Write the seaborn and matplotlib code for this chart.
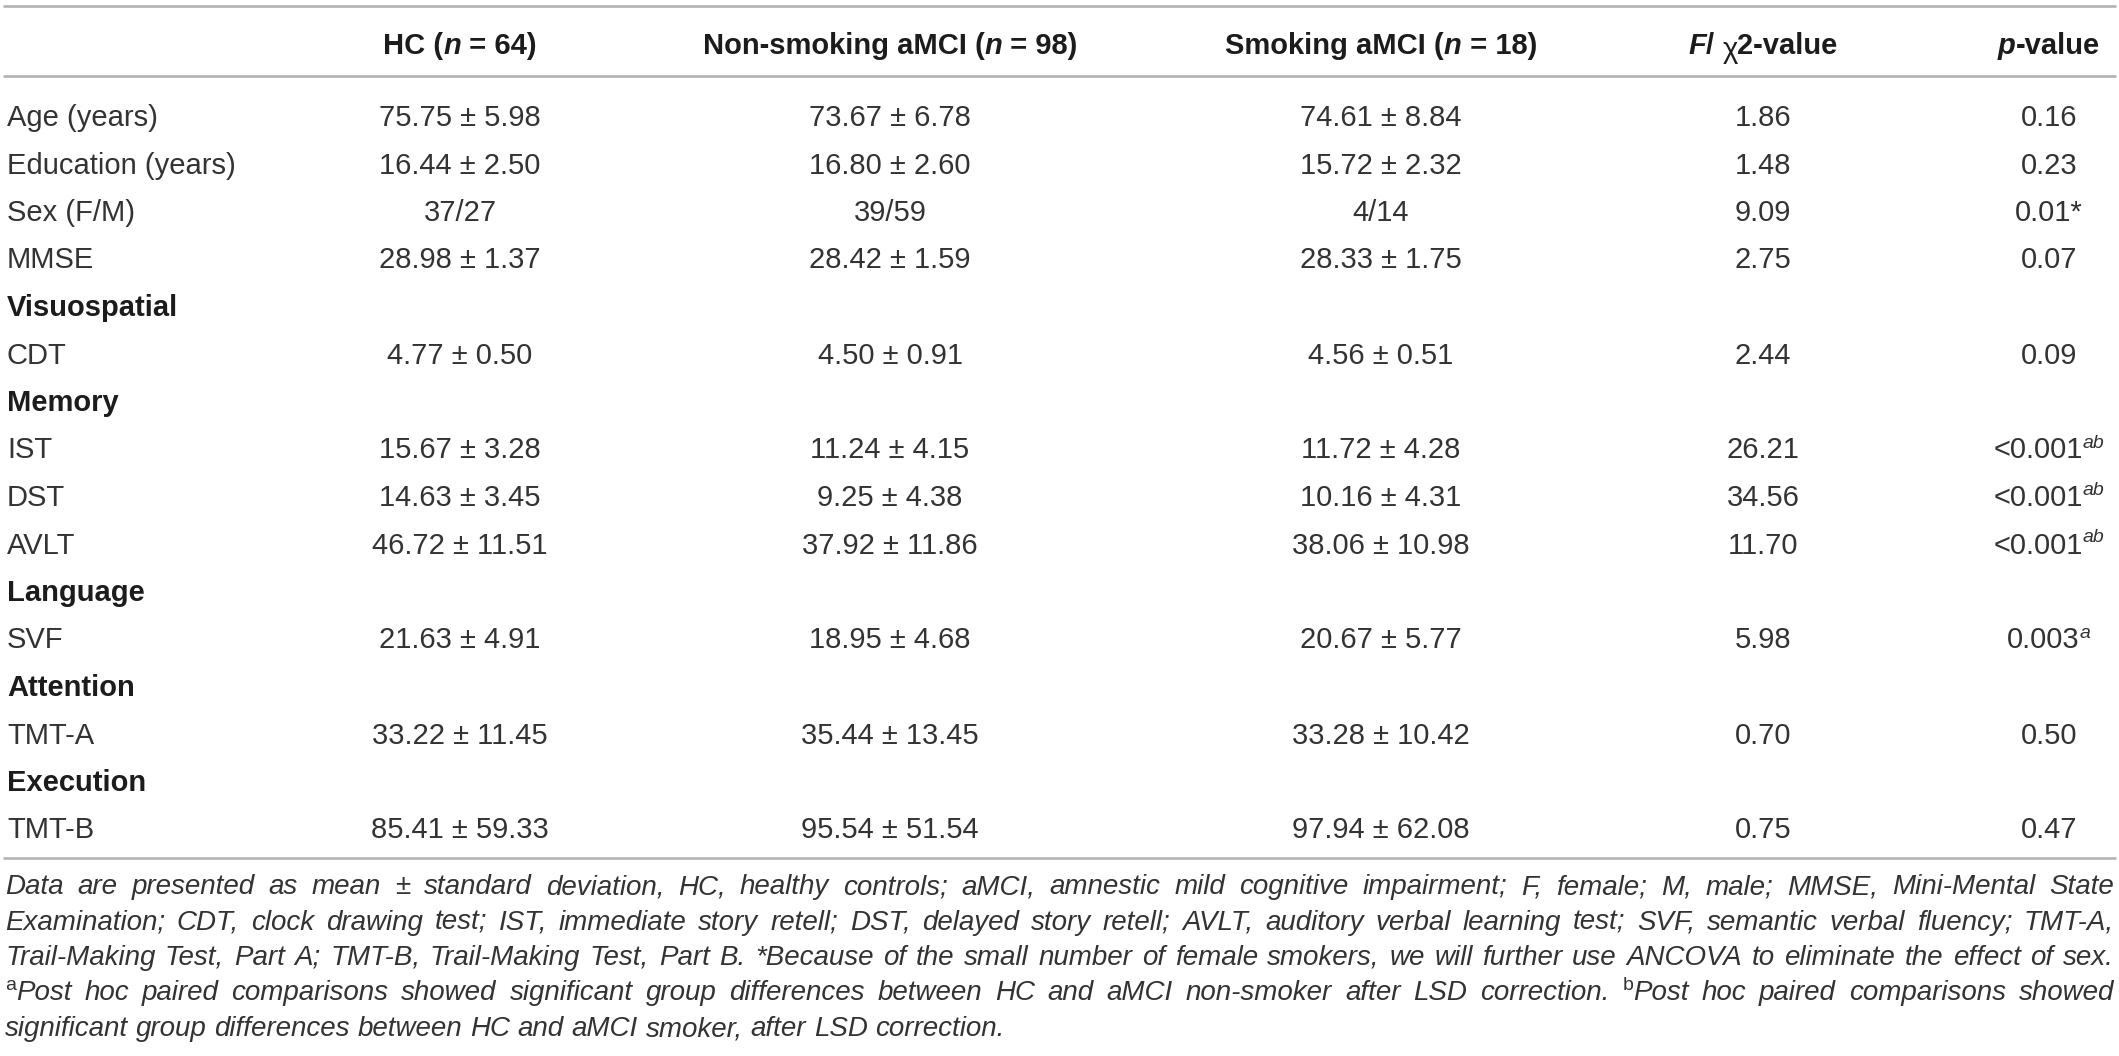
import matplotlib
matplotlib.use("Agg")
import matplotlib.pyplot as plt
import seaborn as sns
import pandas as pd

# ---- table data ----
measures = ["Age (years)", "Education (years)", "Sex (F/M)", "MMSE", "CDT", "IST",
            "DST", "AVLT", "SVF", "TMT-A", "TMT-B"]
domains = [None, None, None, None, "Visuospatial", "Memory", None, None,
           "Language", "Attention", "Execution"]

hc_mean = [75.75, 16.44, None, 28.98, 4.77, 15.67, 14.63, 46.72, 21.63, 33.22, 85.41]
hc_sd = [5.98, 2.50, None, 1.37, 0.50, 3.28, 3.45, 11.51, 4.91, 11.45, 59.33]
ns_mean = [73.67, 16.80, None, 28.42, 4.50, 11.24, 9.25, 37.92, 18.95, 35.44, 95.54]
ns_sd = [6.78, 2.60, None, 1.59, 0.91, 4.15, 4.38, 11.86, 4.68, 13.45, 51.54]
sm_mean = [74.61, 15.72, None, 28.33, 4.56, 11.72, 10.16, 38.06, 20.67, 33.28, 97.94]
sm_sd = [8.84, 2.32, None, 1.75, 0.51, 4.28, 4.31, 10.98, 5.77, 10.42, 62.08]
sex_fm = {"hc": (37, 27), "ns": (39, 59), "sm": (4, 14)}

f_values = [1.86, 1.48, 9.09, 2.75, 2.44, 26.21, 34.56, 11.70, 5.98, 0.70, 0.75]
p_values = ["0.16", "0.23", "0.01", "0.07", "0.09", "<0.001", "<0.001", "<0.001",
            "0.003", "0.50", "0.47"]
p_marks = ["", "", "*", "", "", "ab", "ab", "ab", "a", "", ""]

footnotes = [
    [("Data are presented as mean \u00b1 standard deviation, HC, healthy controls; aMCI, amnestic mild "
      "cognitive impairment; F, female; M, male; MMSE, Mini-Mental State", "fn")],
    [("Examination; CDT, clock drawing test; IST, immediate story retell; DST, delayed story retell; "
      "AVLT, auditory verbal learning test; SVF, semantic verbal fluency; TMT-A,", "fn")],
    [("Trail-Making Test, Part A; TMT-B, Trail-Making Test, Part B. *Because of the small number of "
      "female smokers, we will further use ANCOVA to eliminate the effect of sex.", "fn")],
    [("a", "fn_sup"), ("Post hoc paired comparisons showed significant group differences between HC "
                       "and aMCI non-smoker after LSD correction. ", "fn"),
     ("b", "fn_sup"), ("Post hoc paired comparisons showed", "fn")],
    [("significant group differences between HC and aMCI smoker, after LSD correction.", "fn")],
]

# ---- build rows ----
def cell(m, s, sex, i):
    if measures[i] == "Sex (F/M)":
        return f"{sex[0]}/{sex[1]}"
    return f"{m[i]:.2f} \u00b1 {s[i]:.2f}"

rows = []
for i, name in enumerate(measures):
    if domains[i]:
        rows.append({"label": domains[i], "section": True})
    rows.append({"label": name, "section": False,
                 "hc": cell(hc_mean, hc_sd, sex_fm["hc"], i),
                 "ns": cell(ns_mean, ns_sd, sex_fm["ns"], i),
                 "sm": cell(sm_mean, sm_sd, sex_fm["sm"], i),
                 "f": f"{f_values[i]:.2f}", "p": p_values[i], "mark": p_marks[i]})
table = pd.DataFrame(rows)

# ---- figure ----
sns.set_theme(style="white")
plt.rcParams["font.family"] = ["Liberation Sans", "DejaVu Sans"]

W, H = 2119, 1056
fig = plt.figure(figsize=(W / 100, H / 100), dpi=100)
ax = fig.add_axes([0, 0, 1, 1])
ax.set_xlim(0, W)
ax.set_ylim(H, 0)
ax.axis("off")
renderer = fig.canvas.get_renderer()

TXT = "#333333"
FS = 21
STY = {
    "body": dict(fontsize=FS, color=TXT),
    "bold": dict(fontsize=FS, color="#1c1c1c", fontweight="bold"),
    "bi": dict(fontsize=FS, color="#1c1c1c", fontweight="bold", fontstyle="italic"),
    "chi": dict(fontsize=FS, color="#1c1c1c", rise=-4),
    "sup_i": dict(fontsize=14, color=TXT, fontstyle="italic", rise=11),
    "fn": dict(fontsize=20, color="#333333", fontstyle="italic"),
    "fn_sup": dict(fontsize=14, color="#333333", rise=10),
}


def measure(s, kind):
    st = {k: v for k, v in STY[kind].items() if k != "rise"}
    t = ax.text(0, 0, "|" + s + "|", **st)
    w1 = t.get_window_extent(renderer).width
    t.remove()
    t = ax.text(0, 0, "||", **st)
    w0 = t.get_window_extent(renderer).width
    t.remove()
    return w1 - w0


def draw_runs(runs, x, y, ha="left"):
    widths = [measure(s, k) for s, k in runs]
    total = sum(widths)
    x0 = {"left": x, "center": x - total / 2, "right": x - total}[ha]
    for (s, k), w in zip(runs, widths):
        st = dict(STY[k])
        rise = st.pop("rise", 0)
        ax.text(x0, y - rise, s, ha="left", va="baseline", **st)
        x0 += w


def draw_justified(runs, x_left, x_right, y, justify=True):
    words, cur = [], []
    for s, k in runs:
        parts = s.split(" ")
        for j, part in enumerate(parts):
            if j > 0 and cur:
                words.append(cur)
                cur = []
            if part:
                cur.append((part, k))
    if cur:
        words.append(cur)
    widths = [sum(measure(s, k) for s, k in w) for w in words]
    space = measure(" ", "fn")
    gap = space
    if justify and len(words) > 1:
        gap = max((x_right - x_left - sum(widths)) / (len(words) - 1), 0.5 * space)
    x0 = x_left
    for w, ww in zip(words, widths):
        draw_runs(w, x0, y)
        x0 += ww + gap


# columns and rows (pixel positions)
LABEL_X = 7
COL_X = {"hc": 460, "ns": 890, "sm": 1381, "f": 1763, "p": 2049}
HEAD_Y = 54
ROW0, ROW_STEP = 126, 47.5
RULE = dict(color="#b3b3b3", lw=1.9)

ax.hlines([6, 76, 858], 3, 2116, **RULE)

headers = {
    "hc": [("HC (", "bold"), ("n", "bi"), (" = 64)", "bold")],
    "ns": [("Non-smoking aMCI (", "bold"), ("n", "bi"), (" = 98)", "bold")],
    "sm": [("Smoking aMCI (", "bold"), ("n", "bi"), (" = 18)", "bold")],
    "f": [("F", "bi"), ("/ ", "bold"), ("\u03c7", "chi"), ("2-value", "bold")],
    "p": [("p", "bi"), ("-value", "bold")],
}
for key, runs in headers.items():
    draw_runs(runs, COL_X[key], HEAD_Y, ha="center")

for r, row in table.iterrows():
    y = ROW0 + r * ROW_STEP
    if row["section"]:
        draw_runs([(row["label"], "bold")], LABEL_X, y)
        continue
    draw_runs([(row["label"], "body")], LABEL_X, y)
    for key in ["hc", "ns", "sm", "f"]:
        draw_runs([(row[key], "body")], COL_X[key], y, ha="center")
    p_runs = [(row["p"], "body")]
    if row["mark"] == "*":
        p_runs = [(row["p"] + "*", "body")]
    elif row["mark"]:
        p_runs.append((row["mark"], "sup_i"))
    draw_runs(p_runs, COL_X["p"], y, ha="center")

FN_Y0, FN_STEP = 894, 35.5
for i, line in enumerate(footnotes):
    draw_justified(line, 5, 2114, FN_Y0 + i * FN_STEP, justify=i < len(footnotes) - 1)

fig.savefig("out.png", dpi=100, facecolor="white")
